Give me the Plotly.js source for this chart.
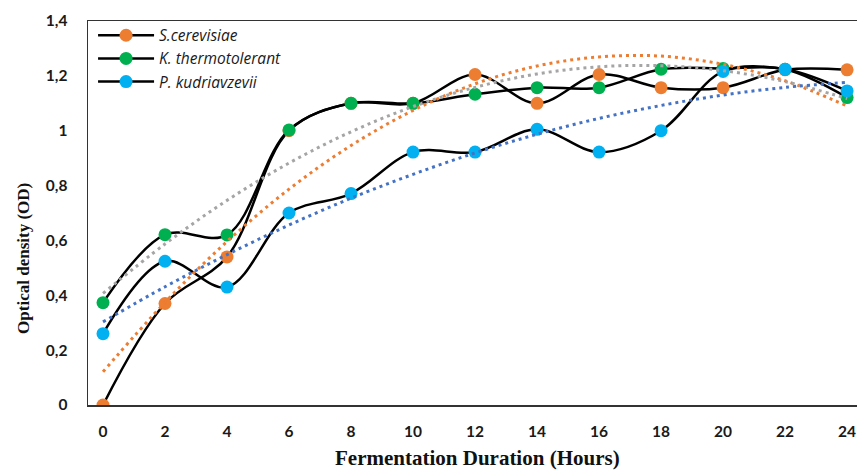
<!DOCTYPE html>
<html>
<head>
<meta charset="utf-8">
<script src="https://cdn.plot.ly/plotly-3.0.1.min.js"></script>
<style>html,body{margin:0;padding:0;overflow:hidden;background:#fff;}</style>
</head>
<body>
<div id="chart"></div>
<script>
// Data
var hours = [0, 2, 4, 6, 8, 10, 12, 14, 16, 18, 20, 22, 24];
var xTickLabels = ['0','2','4','6','8','10','12','14','16','18','20','22','24'];
var seriesNames = ['S.cerevisiae', 'K. thermotolerant', 'P. kudriavzevii'];
var sCerevisiae = [0, 0.37, 0.54, 1.0, 1.1, 1.1, 1.205, 1.1, 1.205, 1.157, 1.157, 1.222, 1.222];
var kThermo     = [0.373, 0.621, 0.62, 1.003, 1.1, 1.1, 1.133, 1.157, 1.157, 1.224, 1.227, 1.224, 1.121];
var pKudri      = [0.26, 0.524, 0.43, 0.70, 0.771, 0.922, 0.922, 1.005, 0.922, 1.0, 1.216, 1.224, 1.145];
// dotted trend curves read at the same hours
var trendS = [0.121, 0.374, 0.596, 0.787, 0.946, 1.074, 1.171, 1.236, 1.269, 1.272, 1.242, 1.182, 1.090];
var trendK = [0.407, 0.587, 0.746, 0.882, 0.996, 1.088, 1.158, 1.207, 1.233, 1.237, 1.219, 1.179, 1.117];
var trendP = [0.303, 0.431, 0.548, 0.656, 0.754, 0.841, 0.919, 0.987, 1.045, 1.092, 1.130, 1.158, 1.176];
var yTickVals = [0, 0.2, 0.4, 0.6, 0.8, 1.0, 1.2, 1.4];

var markerColors = ['#ED7D31', '#00B050', '#00B0F0'];
var trendColors = ['#ED7D31', '#A5A5A5', '#4472C4'];

function seriesTrace(y, i) {
  return {
    x: hours, y: y, name: seriesNames[i], type: 'scatter', mode: 'lines+markers',
    line: {color: '#000', width: 2.5, shape: 'spline', smoothing: 1},
    marker: {color: markerColors[i], size: 13, line: {width: 0}},
    hoverinfo: 'x+y'
  };
}
function trendTrace(y, i) {
  return {
    x: hours, y: y, type: 'scatter', mode: 'lines', showlegend: false,
    line: {color: trendColors[i], width: 3, dash: '3px,4px', shape: 'spline', smoothing: 1},
    hoverinfo: 'skip'
  };
}

var data = [
  seriesTrace(sCerevisiae, 0),
  seriesTrace(kThermo, 1),
  seriesTrace(pKudri, 2),
  trendTrace(trendS, 0),
  trendTrace(trendK, 1),
  trendTrace(trendP, 2)
];

var tickFont = {family: 'Lato, sans-serif', size: 15.5, color: '#1a1a1a', weight: 'bold'};

var layout = {
  width: 870, height: 470,
  margin: {l: 88, r: 4, t: 21, b: 65},
  paper_bgcolor: '#fff', plot_bgcolor: '#fff',
  separators: ', ',
  showlegend: true,
  legend: {
    x: 0.0065, y: 1.006, xanchor: 'left', yanchor: 'top',
    bgcolor: 'rgba(0,0,0,0)', borderwidth: 0, itemwidth: 56,
    font: {family: 'Open Sans, sans-serif', size: 15.5, color: '#1a1a1a', style: 'italic'},
    tracegroupgap: 0
  },
  xaxis: {
    range: [-0.484, 24.61],
    tickmode: 'array', tickvals: hours, ticktext: xTickLabels,
    showgrid: false, zeroline: false,
    showline: true, linecolor: '#333', linewidth: 1.5, mirror: true,
    ticks: 'outside', ticklen: 12, tickcolor: 'rgba(0,0,0,0)',
    tickfont: tickFont
  },
  yaxis: {
    range: [0, 1.4],
    tickmode: 'array', tickvals: yTickVals,
    showgrid: false, zeroline: false,
    showline: true, linecolor: '#333', linewidth: 1.5, mirror: true,
    ticks: 'outside', ticklen: 16, tickcolor: 'rgba(0,0,0,0)',
    tickfont: tickFont
  },
  annotations: [
    {text: 'Optical density (OD)', xref: 'paper', yref: 'paper', x: -0.0823, y: 0.383,
     xanchor: 'center', yanchor: 'middle', textangle: -90, showarrow: false,
     font: {family: 'Liberation Serif, Times New Roman, serif', size: 17, color: '#111', weight: 'bold'}},
    {text: 'Fermentation Duration (Hours)', xref: 'paper', yref: 'paper', x: 0.5, y: -0.138,
     xanchor: 'center', yanchor: 'middle', showarrow: false,
     font: {family: 'Liberation Serif, Times New Roman, serif', size: 21, color: '#111', weight: 'bold'}}
  ]
};

Plotly.newPlot('chart', data, layout, {displayModeBar: false, staticPlot: true});
</script>
</body>
</html>
